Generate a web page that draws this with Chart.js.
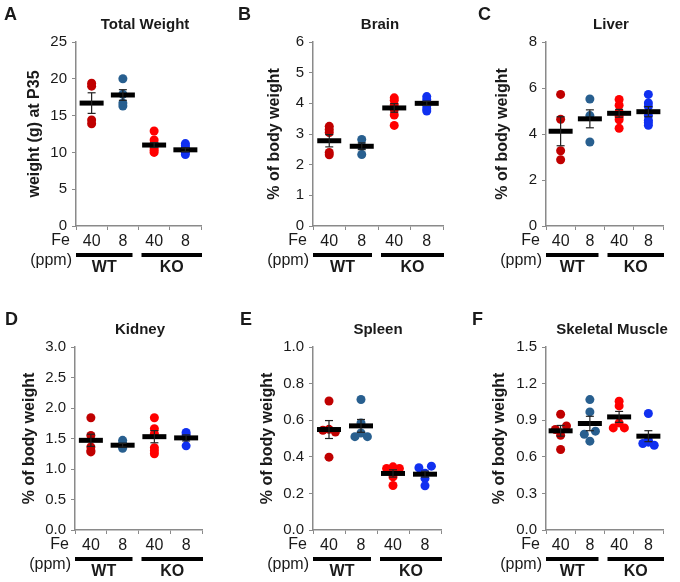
<!DOCTYPE html>
<html>
<head>
<meta charset="utf-8">
<script src="https://cdn.jsdelivr.net/npm/chart.js@4.4.1/dist/chart.umd.min.js"></script>
<style>
  html, body { margin: 0; padding: 0; background: #fff; }
  #wrap { position: relative; width: 680px; height: 582px; }
  #wrap canvas { position: absolute; left: 0; top: 0; }
</style>
</head>
<body>
<div id="wrap"></div>
<script>
// groups: WT 40 ppm, WT 8 ppm, KO 40 ppm, KO 8 ppm
const doseLabels = ["40", "8", "40", "8"];
const genotypes = ["WT", "KO"];
const groupColors = ["#c00000", "#285f8f", "#ff0000", "#1030f0"];

// A - total weight (g)
const weightValues = [[19.4, 19.0, 14.4, 13.9], [20.0, 17.9, 16.7, 16.3], [12.9, 11.7, 11.2, 10.6, 10.3, 10.0], [11.2, 10.9, 10.6, 10.3, 10.0, 9.7]];
const weightMeans = [16.7, 17.8, 11.0, 10.35];
const weightSem = [1.4, 0.72, 0.33, 0.25];
const weightTicks = ["0", "5", "10", "15", "20", "25"];

// B - brain
const brainValues = [[3.25, 3.15, 3.05, 2.4, 2.32], [2.82, 2.6, 2.33], [4.18, 4.1, 3.95, 3.8, 3.62, 3.28], [4.22, 4.12, 4.02, 3.92, 3.82, 3.75]];
const brainMeans = [2.78, 2.6, 3.85, 4.0];
const brainSem = [0.2, 0.11, 0.14, 0.07];
const brainTicks = ["0", "1", "2", "3", "4", "5", "6"];

// C - liver
const liverValues = [[5.72, 4.64, 3.27, 2.88], [5.52, 4.8, 3.65], [5.5, 5.25, 4.95, 4.75, 4.62, 4.25], [5.72, 5.35, 5.2, 4.8, 4.6, 4.5, 4.38]];
const liverMeans = [4.12, 4.66, 4.9, 4.97];
const liverSem = [0.63, 0.39, 0.17, 0.22];
const liverTicks = ["0", "2", "4", "6", "8"];

// D - kidney
const kidneyValues = [[1.84, 1.55, 1.36, 1.3, 1.28], [1.47, 1.42, 1.38, 1.34], [1.84, 1.66, 1.58, 1.35, 1.3, 1.25], [1.6, 1.56, 1.52, 1.38]];
const kidneyMeans = [1.47, 1.39, 1.53, 1.51];
const kidneySem = [0.1, 0.03, 0.1, 0.05];
const kidneyTicks = ["0.0", "0.5", "1.0", "1.5", "2.0", "2.5", "3.0"];

// E - spleen (points spread sideways, offsets in group widths)
const spleenValues = [[0.705, 0.545, 0.55, 0.535, 0.398], [0.713, 0.585, 0.53, 0.51, 0.51], [0.345, 0.336, 0.336, 0.31, 0.29, 0.243], [0.34, 0.349, 0.31, 0.282, 0.242]];
const spleenJitter = [[0, -0.19, 0, 0.2, 0], [0, 0, 0, -0.19, 0.2], [0, -0.2, 0.2, 0, 0, 0], [-0.19, 0.2, 0, 0, 0]];
const spleenMeans = [0.549, 0.569, 0.309, 0.305];
const spleenSem = [0.049, 0.035, 0.02, 0.016];
const spleenTicks = ["0.0", "0.2", "0.4", "0.6", "0.8", "1.0"];

// F - skeletal muscle
const muscleValues = [[0.949, 0.853, 0.824, 0.777, 0.66], [1.069, 0.968, 0.81, 0.785, 0.728], [1.055, 1.017, 0.878, 0.837, 0.837], [0.955, 0.736, 0.709, 0.695, 0.72]];
const muscleJitter = [[0, 0.2, -0.18, 0, 0], [0, 0, 0.19, -0.19, 0], [0, 0, 0, -0.2, 0.18], [0, 0, -0.19, 0.2, 0]];
const muscleMeans = [0.813, 0.873, 0.927, 0.769];
const muscleSem = [0.044, 0.059, 0.045, 0.045];
const muscleTicks = ["0.0", "0.3", "0.6", "0.9", "1.2", "1.5"];

const pct = "% of body weight";
// box = plot area [left, top, right, bottom] in page pixels
const panels = [
  { letter: "A", title: "Total Weight", yTitle: "weight (g) at P35", values: weightValues, jitter: null, means: weightMeans, sems: weightSem, ticks: weightTicks, box: [76, 42, 201, 226], titleX: 145, letterX: 4, yTitleX: 35 },
  { letter: "B", title: "Brain", yTitle: pct, values: brainValues, jitter: null, means: brainMeans, sems: brainSem, ticks: brainTicks, box: [313, 42, 443, 226], titleX: 380, letterX: 238, yTitleX: 275 },
  { letter: "C", title: "Liver", yTitle: pct, values: liverValues, jitter: null, means: liverMeans, sems: liverSem, ticks: liverTicks, box: [546, 42, 674, 226], titleX: 611, letterX: 478, yTitleX: 503 },
  { letter: "D", title: "Kidney", yTitle: pct, values: kidneyValues, jitter: null, means: kidneyMeans, sems: kidneySem, ticks: kidneyTicks, box: [75, 347, 202, 530], titleX: 140, letterX: 5, yTitleX: 30 },
  { letter: "E", title: "Spleen", yTitle: pct, values: spleenValues, jitter: spleenJitter, means: spleenMeans, sems: spleenSem, ticks: spleenTicks, box: [313, 347, 441, 530], titleX: 378, letterX: 240, yTitleX: 268 },
  { letter: "F", title: "Skeletal Muscle", yTitle: pct, values: muscleValues, jitter: muscleJitter, means: muscleMeans, sems: muscleSem, ticks: muscleTicks, box: [546, 347, 673, 530], titleX: 612, letterX: 472, yTitleX: 500 }
];

const FONT = "'Liberation Sans', Arial, sans-serif";
const ink = "#1a1a1a";
const axisGray = "#8a8a8a";
Chart.defaults.font.family = FONT;

function makeDecor(p) {
  return {
    id: "decor" + p.letter,
    afterDraw(chart) {
      const ctx = chart.ctx;
      const xs = chart.scales.x;
      const area = chart.chartArea;
      const [L, T, R, B] = p.box;
      ctx.save();
      ctx.fillStyle = ink;
      ctx.textBaseline = "middle";

      ctx.font = "bold 18px " + FONT;
      ctx.textAlign = "left";
      ctx.fillText(p.letter, p.letterX, T - 27);

      ctx.font = "bold 15px " + FONT;
      ctx.textAlign = "center";
      ctx.fillText(p.title, p.titleX, T - 17);

      ctx.save();
      ctx.font = "bold 16px " + FONT;
      ctx.translate(p.yTitleX, (area.top + area.bottom) / 2);
      ctx.rotate(-Math.PI / 2);
      ctx.fillText(p.yTitle, 0, 0);
      ctx.restore();

      ctx.font = "16px " + FONT;
      ctx.textAlign = "right";
      ctx.fillText("Fe", L - 6, B + 15);
      ctx.fillText("(ppm)", L - 4, B + 35);

      // genotype bars under the dose labels
      const spans = [
        [xs.getPixelForValue(-0.5), xs.getPixelForValue(1.5) - 6],
        [xs.getPixelForValue(1.5) + 3, xs.getPixelForValue(3.5) + 1]
      ];
      ctx.strokeStyle = "#000";
      ctx.lineWidth = 4;
      ctx.font = "bold 16px " + FONT;
      ctx.textAlign = "center";
      spans.forEach(([a, b], i) => {
        ctx.beginPath();
        ctx.moveTo(a, B + 29);
        ctx.lineTo(b, B + 29);
        ctx.stroke();
        ctx.fillText(genotypes[i], (a + b) / 2, B + 42);
      });
      ctx.restore();
    }
  };
}

function buildPanel(p) {
  const canvas = document.createElement("canvas");
  canvas.width = 680;
  canvas.height = 582;
  document.getElementById("wrap").appendChild(canvas);
  const [L, T, R, B] = p.box;
  const yW = 40, xH = 24;

  const pointSets = p.values.map((vals, g) => ({
    data: vals.map((v, k) => ({ x: g + (p.jitter ? p.jitter[g][k] : 0), y: v })),
    backgroundColor: groupColors[g],
    pointBackgroundColor: groupColors[g],
    pointBorderWidth: 0,
    borderWidth: 0,
    pointRadius: 4.5,
    order: 3
  }));

  const meanSet = {
    data: p.means.map((m, g) => ({ x: g, y: m })),
    pointStyle: "line",
    pointRadius: 12,
    borderColor: "#000",
    pointBorderColor: "#000",
    borderWidth: 5,
    pointBorderWidth: 5,
    order: 1
  };

  const errData = [];
  p.means.forEach((m, g) => {
    errData.push({ x: g, y: m - p.sems[g] }, { x: g, y: m + p.sems[g] }, { x: g, y: null });
  });
  const errSet = {
    data: errData,
    showLine: true,
    spanGaps: false,
    borderColor: "#222",
    borderWidth: 1.2,
    pointStyle: "line",
    pointRadius: 4,
    pointBorderColor: "#222",
    pointBorderWidth: 1.2,
    order: 0
  };

  const yMax = parseFloat(p.ticks[p.ticks.length - 1]);

  new Chart(canvas.getContext("2d"), {
    type: "scatter",
    data: { datasets: [errSet, meanSet, ...pointSets] },
    options: {
      responsive: false,
      animation: false,
      events: [],
      layout: { padding: { left: L - yW, top: T, right: 680 - R, bottom: 582 - B - xH } },
      plugins: { legend: { display: false }, tooltip: { enabled: false } },
      scales: {
        x: {
          type: "linear",
          min: -0.5,
          max: 3.5,
          afterBuildTicks: s => { s.ticks = doseLabels.map((_, i) => ({ value: i })); },
          afterFit: s => { s.height = xH; },
          grid: { offset: true, drawOnChartArea: false, drawTicks: true, tickLength: 4, color: axisGray, lineWidth: 1 },
          border: { color: axisGray, width: 1.5 },
          ticks: { callback: (v, i) => doseLabels[i], autoSkip: false, maxRotation: 0, padding: 2, color: ink, font: { size: 16 } }
        },
        y: {
          type: "linear",
          min: 0,
          max: yMax,
          afterBuildTicks: s => { s.ticks = p.ticks.map(t => ({ value: parseFloat(t) })); },
          afterFit: s => { s.width = yW; },
          grid: { drawOnChartArea: false, drawTicks: true, tickLength: 4, color: axisGray, lineWidth: 1 },
          border: { color: axisGray, width: 1.5 },
          ticks: { callback: (v, i) => p.ticks[i], padding: 5, color: ink, font: { size: 15 } }
        }
      }
    },
    plugins: [makeDecor(p)]
  });
}

panels.forEach(buildPanel);
</script>
</body>
</html>
